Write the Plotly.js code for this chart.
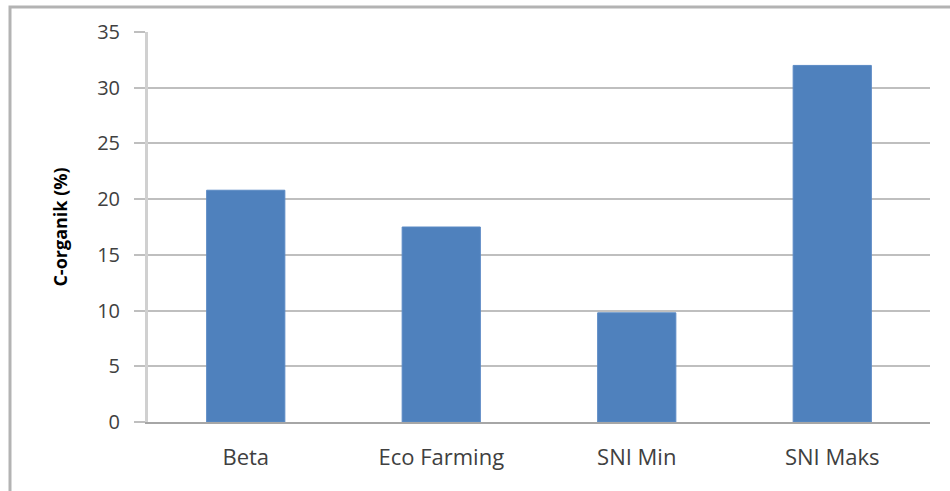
<!DOCTYPE html>
<html>
<head>
<meta charset="utf-8">
<script src="https://cdn.plot.ly/plotly-3.0.1.min.js"></script>
<style>html,body{margin:0;padding:0;background:#fff;}#chart{width:950px;height:491px;}</style>
</head>
<body>
<div id="chart"></div>
<script>
const categories = ["Beta", "Eco Farming", "SNI Min", "SNI Maks"];
const cOrganik = [20.8, 17.5, 9.8, 32];
const yTicks = [0, 5, 10, 15, 20, 25, 30, 35];

const fontFam = "'Open Sans', 'Liberation Sans', sans-serif";

const trace = {
  type: "bar",
  x: categories,
  y: cOrganik,
  marker: { color: "#4f81bd", line: { color: "#5b8ac4", width: 1 } },
  hoverinfo: "x+y"
};

const layout = {
  width: 950,
  height: 491,
  margin: { l: 148, r: 20, t: 32, b: 69 },
  paper_bgcolor: "#ffffff",
  plot_bgcolor: "#ffffff",
  showlegend: false,
  bargap: 0.6,
  font: { family: fontFam, color: "#404040", size: 20 },
  xaxis: {
    type: "category",
    showline: true,
    linecolor: "#a6a6a6",
    linewidth: 2,
    ticks: "",
    showgrid: false,
    tickfont: { family: fontFam, size: 22, color: "#404040" },
    ticklabelstandoff: 15
  },
  yaxis: {
    range: [0, 35],
    tickvals: yTicks,
    ticktext: yTicks.map(String),
    showline: true,
    linecolor: "#d0d0d0",
    linewidth: 3,
    showgrid: true,
    gridcolor: "#bfbfbf",
    gridwidth: 2,
    zeroline: false,
    ticks: "outside",
    ticklen: 11,
    tickcolor: "#bfbfbf",
    tickwidth: 2,
    ticklabelstandoff: 10,
    tickfont: { family: fontFam, size: 20, color: "#404040" },
    title: {
      text: "<b>C-organik (%)</b>",
      font: { family: fontFam, size: 18, color: "#000000" },
      standoff: 25
    }
  },
  shapes: [{
    type: "rect",
    xref: "paper", yref: "paper",
    x0: (10 - 148) / 782, x1: (960 - 148) / 782,
    y0: -(500 - 422) / 390, y1: 1 + (32 - 7) / 390,
    line: { color: "#b3b3b3", width: 3 },
    fillcolor: "rgba(0,0,0,0)",
    layer: "below"
  }]
};

Plotly.newPlot("chart", [trace], layout, { displayModeBar: false, staticPlot: true });
</script>
</body>
</html>
